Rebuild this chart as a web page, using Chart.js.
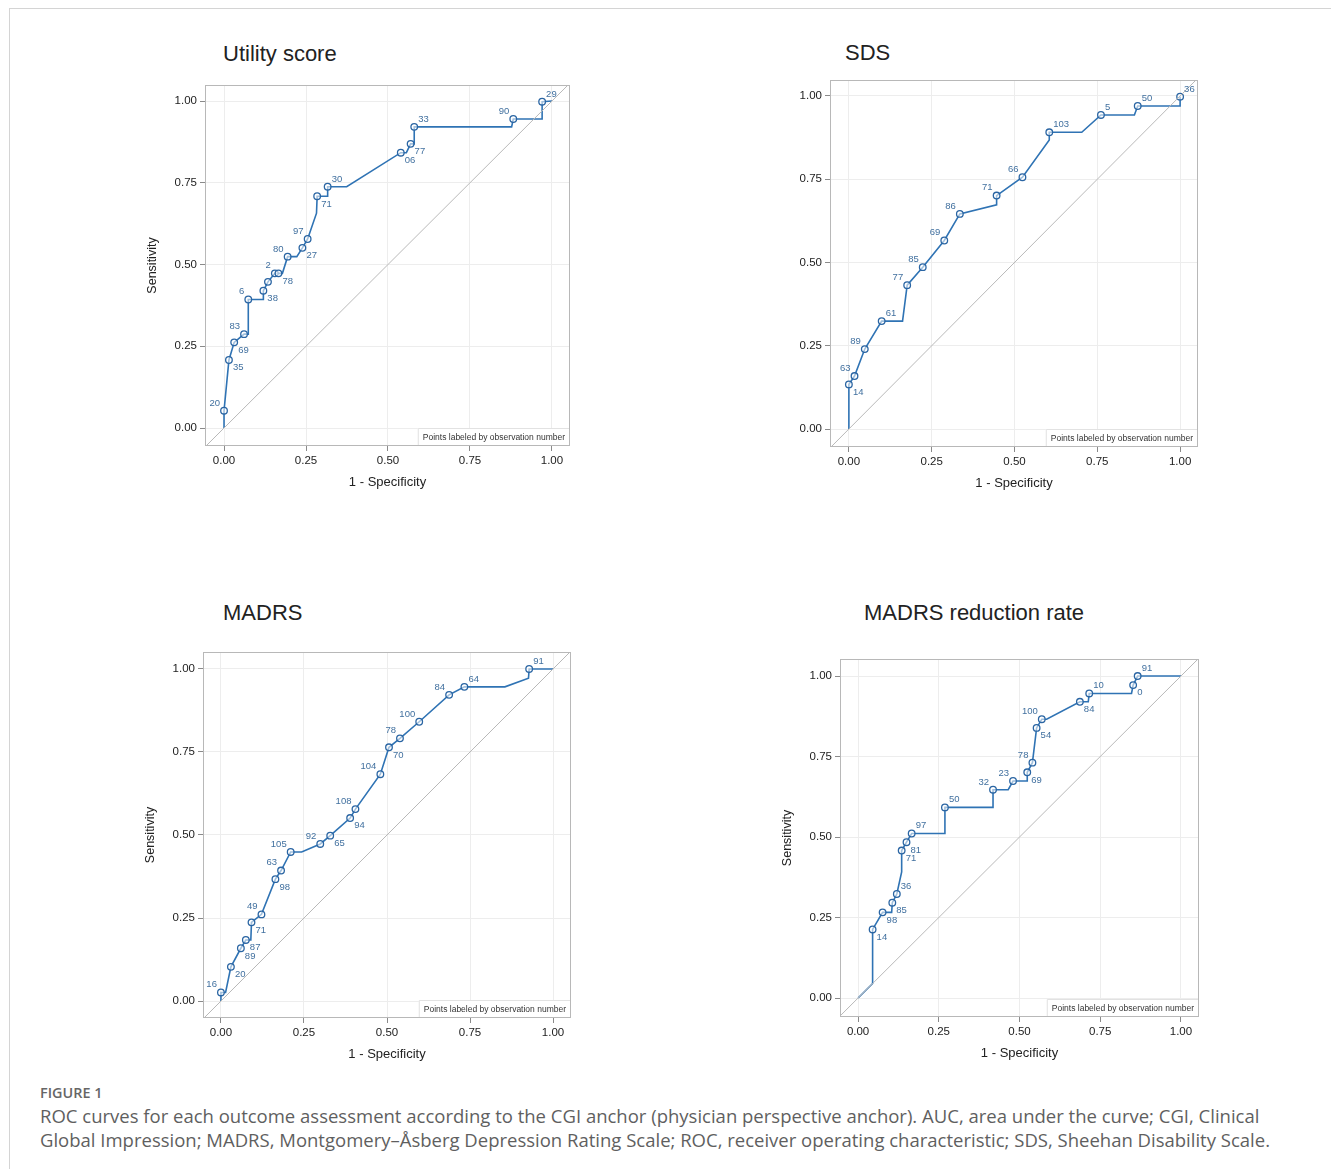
<!DOCTYPE html>
<html>
<head>
<meta charset="utf-8">
<script src="https://cdn.jsdelivr.net/npm/chart.js@4.4.0/dist/chart.umd.min.js"></script>
<style>
  body { margin: 0; background: #fff; width: 1331px; height: 1169px; position: relative; overflow: hidden; }
  .frame { position: absolute; left: 9px; top: 8px; width: 1330px; height: 1170px; border-left: 1px solid #d4d4d4; border-top: 1px solid #d4d4d4; }
  canvas { position: absolute; }
  .ptitle { position: absolute; font-family: "Liberation Sans", Arial, sans-serif; font-size: 22px; line-height: 22px; color: #222; white-space: nowrap; }
  .fig { position: absolute; left: 40px; top: 1083px; font-family: "Open Sans", sans-serif; font-weight: 600; font-size: 14.4px; color: #666; }
  .cap { position: absolute; left: 40px; top: 1104px; font-family: "Open Sans", sans-serif; font-size: 18.5px; line-height: 24px; color: #5f5f5f; white-space: nowrap; }
</style>
</head>
<body>
<div class="frame"></div>

<div class="ptitle" style="left:223px; top:43px;">Utility score</div>
<div class="ptitle" style="left:845px; top:42px;">SDS</div>
<div class="ptitle" style="left:223px; top:602px;">MADRS</div>
<div class="ptitle" style="left:864px; top:602px;">MADRS reduction rate</div>

<canvas id="c1"></canvas>
<canvas id="c2"></canvas>
<canvas id="c3"></canvas>
<canvas id="c4"></canvas>

<div class="fig">FIGURE 1</div>
<div class="cap">ROC curves for each outcome assessment according to the CGI anchor (physician perspective anchor). AUC, area under the curve; CGI, Clinical<br>Global Impression; MADRS, Montgomery–Åsberg Depression Rating Scale; ROC, receiver operating characteristic; SDS, Sheehan Disability Scale.</div>

<script>
// tick values shared by the four ROC plots
const rocTicks = [0, 0.25, 0.5, 0.75, 1];

// Utility score  (null = corner of the step, no marker)
const utilFpr = [0, 0, 0.015, 0.031, 0.061, 0.074, 0.074, 0.12, 0.12, 0.134, 0.155, 0.166, 0.178, 0.194, 0.222, 0.239, 0.255, 0.282, 0.284, 0.316, 0.316, 0.374, 0.539, 0.556, 0.569, 0.58, 0.58, 0.877, 0.882, 0.97, 0.97, 1.0];
const utilTpr = [0, 0.053, 0.208, 0.262, 0.287, 0.287, 0.393, 0.393, 0.42, 0.447, 0.473, 0.473, 0.473, 0.524, 0.524, 0.551, 0.578, 0.657, 0.709, 0.709, 0.738, 0.738, 0.842, 0.842, 0.869, 0.869, 0.921, 0.921, 0.945, 0.945, 0.998, 1.0];
const utilObs = [null, '20', '35', '69', '83', null, '6', null, '38', '', '2', '78', null, '80', null, '27', '97', null, '71', null, '30', null, '06', null, '77', null, '33', null, '90', null, '29', null];
const utilDir = ['', 'ul', 'br', 'br', 'ul', '', 'ul', '', 'br', '', 'ul', 'br', '', 'ul', '', 'br', 'ul', '', 'br', '', 'ur', '', 'br', '', 'br', '', 'ur', '', 'ul', '', 'ur', ''];

// SDS
const sdsFpr = [0, 0, 0.017, 0.048, 0.099, 0.162, 0.176, 0.223, 0.288, 0.335, 0.446, 0.446, 0.524, 0.605, 0.605, 0.703, 0.761, 0.862, 0.872, 1.0, 1.0];
const sdsTpr = [0, 0.134, 0.159, 0.240, 0.324, 0.324, 0.432, 0.486, 0.566, 0.646, 0.673, 0.701, 0.756, 0.868, 0.891, 0.891, 0.943, 0.943, 0.970, 0.970, 0.998];
const sdsObs = [null, '14', '63', '89', '61', null, '77', '85', '69', '86', null, '71', '66', null, '103', null, '5', null, '50', null, '36'];
const sdsDir = ['', 'br', 'ul', 'ul', 'ur', '', 'ul', 'ul', 'ul', 'ul', '', 'ul', 'ul', '', 'ur', '', 'ur', '', 'ur', '', 'ur'];

// MADRS
const madrsFpr = [0, 0, 0.014, 0.030, 0.060, 0.075, 0.09, 0.092, 0.122, 0.164, 0.181, 0.210, 0.243, 0.299, 0.329, 0.389, 0.405, 0.480, 0.506, 0.539, 0.597, 0.687, 0.733, 0.855, 0.926, 0.928, 1.0];
const madrsTpr = [0, 0.026, 0.026, 0.103, 0.159, 0.184, 0.184, 0.237, 0.261, 0.367, 0.393, 0.449, 0.449, 0.473, 0.498, 0.551, 0.578, 0.683, 0.764, 0.791, 0.841, 0.922, 0.946, 0.946, 0.972, 1.0, 1.0];
const madrsObs = [null, '16', null, '20', '89', '87', null, '71', '49', '98', '63', '105', null, '92', '65', '94', '108', '104', '70', '78', '100', '84', '64', null, null, '91', null];
const madrsDir = ['', 'ul', '', 'br', 'br', 'br', '', 'br', 'ul', 'br', 'ul', 'ul', '', 'ul', 'br', 'br', 'ul', 'ul', 'br', 'ul', 'ul', 'ul', 'ur', '', '', 'ur', ''];

// MADRS reduction rate
const redFpr = [0, 0.045, 0.045, 0.076, 0.104, 0.106, 0.12, 0.135, 0.135, 0.150, 0.166, 0.269, 0.269, 0.418, 0.418, 0.465, 0.48, 0.524, 0.524, 0.540, 0.553, 0.569, 0.584, 0.687, 0.713, 0.716, 0.847, 0.852, 0.866, 1.0];
const redTpr = [0, 0.045, 0.213, 0.266, 0.266, 0.296, 0.323, 0.392, 0.458, 0.484, 0.511, 0.511, 0.592, 0.592, 0.647, 0.647, 0.674, 0.674, 0.701, 0.731, 0.839, 0.866, 0.866, 0.920, 0.920, 0.946, 0.946, 0.972, 1.0, 1.0];
const redObs = [null, null, '14', '98', null, '85', '36', null, '71', '81', '97', null, '50', null, '32', null, '23', null, '69', '78', '54', '100', null, '84', null, '10', null, '0', '91', null];
const redDir = ['', '', 'br', 'br', '', 'br', 'ur', '', 'br', 'br', 'ur', '', 'ur', '', 'ul', '', 'ul', '', 'br', 'ul', 'br', 'ul', '', 'br', '', 'ur', '', 'br', 'ur', ''];

// frame of each plot region on the page and its axis ranges
const panels = [
  { id: 'c1', L: 205, T: 85,  R: 570,  B: 446,  x: [-0.058, 1.055], y: [-0.055, 1.049], ytitle: true,
    fpr: utilFpr, tpr: utilTpr, obs: utilObs, dir: utilDir },
  { id: 'c2', L: 830, T: 80,  R: 1198, B: 447,  x: [-0.057, 1.054], y: [-0.054, 1.048], ytitle: false,
    fpr: sdsFpr, tpr: sdsTpr, obs: sdsObs, dir: sdsDir },
  { id: 'c3', L: 203, T: 652, R: 571,  B: 1018, x: [-0.054, 1.054], y: [-0.051, 1.051], ytitle: true,
    fpr: madrsFpr, tpr: madrsTpr, obs: madrsObs, dir: madrsDir },
  { id: 'c4', L: 840, T: 659, R: 1199, B: 1017, x: [-0.056, 1.056], y: [-0.059, 1.053], ytitle: true,
    fpr: redFpr, tpr: redTpr, obs: redObs, dir: redDir }
];

const LEFT = 80, TOP = 20, RIGHT = 10, BOTTOM = 60;
const fontName = '"Liberation Sans", Arial, sans-serif';

// box around plot + "Points labeled" note
const framePlugin = {
  id: 'framePlugin',
  beforeDatasetsDraw(chart) {
    const { ctx, chartArea: a } = chart;
    ctx.save();
    ctx.font = '8.5px ' + fontName;
    const txt = 'Points labeled by observation number';
    const w = ctx.measureText(txt).width;
    ctx.fillStyle = '#fff';
    ctx.fillRect(a.right - w - 10, a.bottom - 18, w + 10, 18);
    ctx.strokeStyle = '#e2e2e2';
    ctx.lineWidth = 1;
    ctx.beginPath();
    ctx.moveTo(a.right - w - 9.5, a.bottom);
    ctx.lineTo(a.right - w - 9.5, a.bottom - 17.5);
    ctx.lineTo(a.right, a.bottom - 17.5);
    ctx.stroke();
    ctx.fillStyle = '#333';
    ctx.textAlign = 'right';
    ctx.textBaseline = 'middle';
    ctx.fillText(txt, a.right - 5, a.bottom - 8.5);
    ctx.restore();
  },
  afterDraw(chart) {
    const { ctx, chartArea: a } = chart;
    ctx.save();
    ctx.strokeStyle = '#b8b8b8';
    ctx.lineWidth = 1;
    ctx.strokeRect(a.left + 0.5, a.top + 0.5, a.right - a.left - 1, a.bottom - a.top - 1);
    ctx.restore();
  }
};

// observation numbers next to the markers
const labelPlugin = {
  id: 'obsLabels',
  afterDatasetsDraw(chart, args, opts) {
    const { ctx } = chart;
    const meta = chart.getDatasetMeta(1);
    ctx.save();
    ctx.font = '9.5px ' + fontName;
    ctx.fillStyle = '#41709f';
    meta.data.forEach((pt, i) => {
      const txt = opts.obs[i];
      if (!txt) return;
      const d = opts.dir[i] || 'ur';
      let x = pt.x, y = pt.y;
      if (d === 'ul') { ctx.textAlign = 'right'; ctx.textBaseline = 'bottom'; x -= 4; y -= 3; }
      else if (d === 'ur') { ctx.textAlign = 'left'; ctx.textBaseline = 'bottom'; x += 4; y -= 3; }
      else if (d === 'br') { ctx.textAlign = 'left'; ctx.textBaseline = 'top'; x += 4; y += 3; }
      else if (d === 'bl') { ctx.textAlign = 'right'; ctx.textBaseline = 'top'; x -= 4; y += 3; }
      ctx.fillText(txt, x, y);
    });
    ctx.restore();
  }
};

function makeRoc(p) {
  const cv = document.getElementById(p.id);
  const W = p.R - p.L + LEFT + RIGHT, H = p.B - p.T + TOP + BOTTOM;
  cv.style.left = (p.L - LEFT) + 'px';
  cv.style.top = (p.T - TOP) + 'px';
  cv.width = W; cv.height = H;
  cv.style.width = W + 'px'; cv.style.height = H + 'px';

  const points = p.fpr.map((v, i) => ({ x: v, y: p.tpr[i] }));
  const lo = Math.min(p.x[0], p.y[0]), hi = Math.max(p.x[1], p.y[1]);

  const axis = (range, title, show, isX) => ({
    type: 'linear',
    min: range[0],
    max: range[1],
    afterBuildTicks: s => { s.ticks = rocTicks.map(v => ({ value: v })); },
    afterFit: s => { if (isX) s.height = BOTTOM; else s.width = LEFT; },
    grid: { color: '#ededed', tickColor: '#8a8a8a', tickLength: 5, drawTicks: true },
    border: { display: false },
    ticks: {
      font: { family: fontName, size: 11.5 },
      color: '#222',
      padding: 3,
      maxRotation: 0,
      callback: v => v.toFixed(2)
    },
    title: {
      display: show,
      text: title,
      font: { family: fontName, size: isX ? 13 : 12.5 },
      color: '#222',
      padding: isX ? { top: 0, bottom: 16 } : { top: 20, bottom: 0 }
    }
  });

  new Chart(cv, {
    type: 'scatter',
    data: {
      datasets: [
        {
          data: [{ x: lo, y: lo }, { x: hi, y: hi }],
          showLine: true,
          borderColor: '#b9b9b9',
          borderWidth: 1,
          pointRadius: 0
        },
        {
          data: points,
          showLine: true,
          borderColor: '#2f73b4',
          borderWidth: 1.6,
          pointRadius: p.obs.map(o => o === null ? 0 : 3.3),
          pointBorderColor: '#2a65a3',
          pointBackgroundColor: 'rgba(255,255,255,0.55)',
          pointBorderWidth: 1.3
        }
      ]
    },
    options: {
      responsive: false,
      animation: false,
      layout: { padding: { left: 0, top: TOP, right: RIGHT, bottom: 0 } },
      scales: {
        x: axis(p.x, '1 - Specificity', true, true),
        y: axis(p.y, 'Sensitivity', p.ytitle, false)
      },
      plugins: {
        legend: { display: false },
        tooltip: { enabled: false },
        obsLabels: { obs: p.obs, dir: p.dir }
      }
    },
    plugins: [framePlugin, labelPlugin]
  });
}

panels.forEach(makeRoc);
</script>
</body>
</html>
